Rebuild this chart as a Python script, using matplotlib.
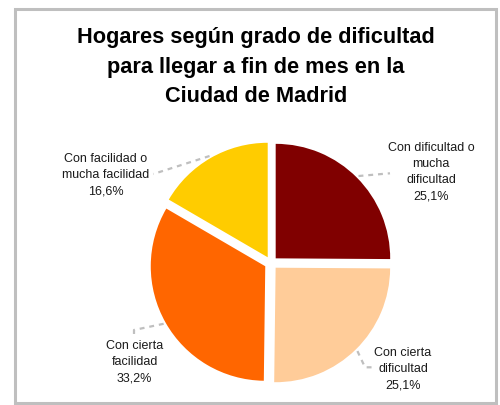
import math
import matplotlib
matplotlib.use("Agg")
import matplotlib.pyplot as plt
from matplotlib.patches import Rectangle

plt.rcParams['font.family'] = ['Liberation Sans', 'DejaVu Sans']

# ---- data ----
title = "Hogares según grado de dificultad\npara llegar a fin de mes en la\nCiudad de Madrid"
categories = ["Con dificultad o\nmucha\ndificultad",
              "Con cierta\ndificultad",
              "Con cierta\nfacilidad",
              "Con facilidad o\nmucha facilidad"]
values = [25.1, 25.1, 33.2, 16.6]
colors = ["#800000", "#FFCC99", "#FF6600", "#FFCC00"]

# ---- layout (pixel coordinates, y measured from top) ----
W, H = 500, 405
pie_center = (271, 263)
pie_radius = 114.5
explode_px = 6.6
label_pos = [(431, 172), (403, 369.5), (134.5, 362), (106, 175)]
leader_path = [  # elbow/end points after the start point on the wedge edge
    [(390, 173.3)],
    [(365, 367.3), (373.3, 367.3)],
    [(134, 330), (134, 335.5)],
    [(153.3, 174)],
]

def py(y):
    return H - y

fig = plt.figure(figsize=(W / 100, H / 100), dpi=100)
ax = fig.add_axes([0, 0, 1, 1])

wedges, _ = ax.pie(values, colors=colors, startangle=90, counterclock=False,
                   explode=[explode_px] * len(values), radius=pie_radius,
                   center=(pie_center[0], py(pie_center[1])),
                   wedgeprops=dict(linewidth=0))
ax.set_xlim(0, W)
ax.set_ylim(0, H)
ax.set_aspect('equal')
ax.axis('off')

for w, cat, val, lp, path in zip(wedges, categories, values, label_pos, leader_path):
    tm = math.radians(0.5 * (w.theta1 + w.theta2))
    cx, cy = w.center
    sx = cx + 1.02 * w.r * math.cos(tm)
    sy = cy + 1.02 * w.r * math.sin(tm)
    xs = [sx] + [p[0] for p in path]
    ys = [sy] + [py(p[1]) for p in path]
    ax.plot(xs, ys, color="#BFBFBF", lw=1.6, dashes=(2.2, 2.2),
            solid_capstyle='butt', dash_capstyle='butt')
    txt = cat + "\n" + f"{val:.1f}".replace(".", ",") + "%"
    ax.text(lp[0], py(lp[1]), txt, ha='center', va='center', fontsize=9,
            color="#1a1a1a", linespacing=1.47)

ax.text(256, py(67), title, ha='center', va='center', fontsize=15.7,
        fontweight='bold', color='black', linespacing=1.52)

fig.patches.append(Rectangle((14.7 / W, (H - 403) / H), (495.5 - 14.7) / W, (403 - 9) / H,
                             transform=fig.transFigure, fill=False,
                             edgecolor="#BFBFBF", linewidth=2.2))

fig.savefig("out.png", dpi=100)
